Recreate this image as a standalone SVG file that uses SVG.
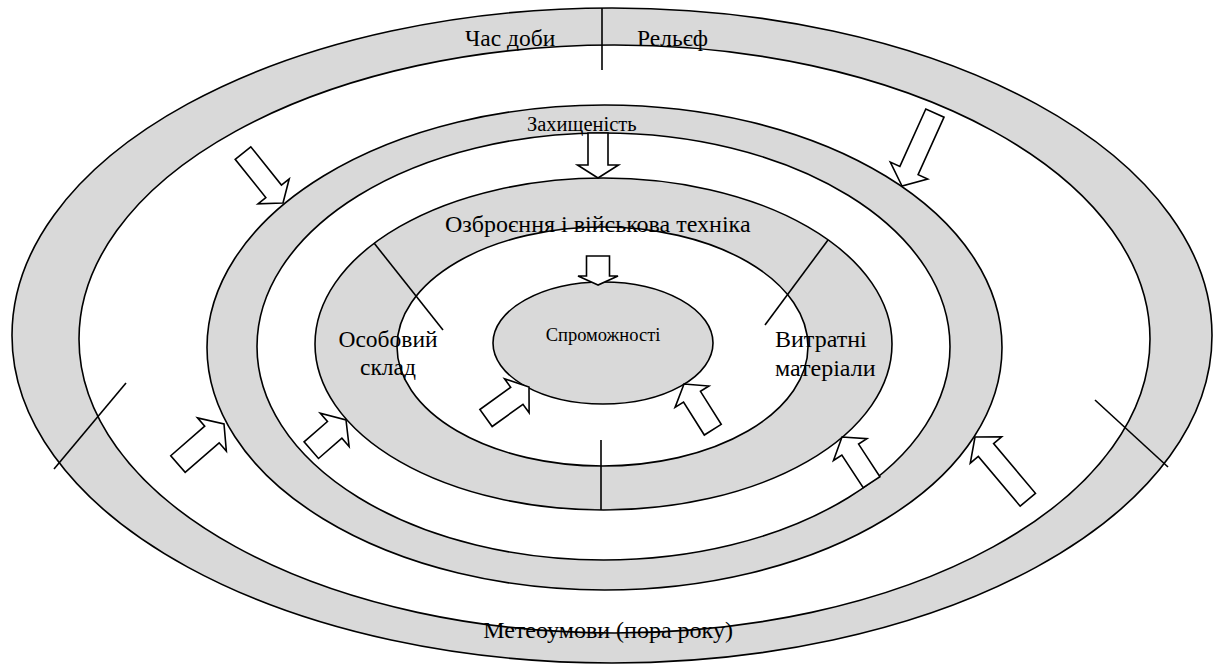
<svg xmlns="http://www.w3.org/2000/svg" width="1215" height="666" viewBox="0 0 1215 666">
<style>
.g{fill:#d9d9d9;stroke:#000;stroke-width:1.6}
.w{fill:#fff;stroke:#000;stroke-width:1.6}
.ln{stroke:#000;stroke-width:1.6;fill:none}
.arr{fill:#fff;stroke:#000;stroke-width:1.6;stroke-linejoin:miter}
.t{font-family:"Liberation Serif","Times New Roman",serif;fill:#000}
</style>
<rect width="1215" height="666" fill="#fff"/>
<g id="ring-outer">
<ellipse class="g" cx="612" cy="335.5" rx="600" ry="327.5"/>
<ellipse class="w" cx="614.5" cy="339" rx="535.5" ry="294"/>
</g>
<g id="ring-protection">
<ellipse class="g" cx="604.5" cy="347.5" rx="397.5" ry="242.5"/>
<ellipse class="w" cx="603.5" cy="346.5" rx="346.5" ry="213.5"/>
</g>
<g id="ring-resources">
<ellipse class="g" cx="603.5" cy="344" rx="288.5" ry="166"/>
<ellipse class="w" cx="602.5" cy="346.5" rx="205.5" ry="119.5"/>
</g>
<g id="core">
<ellipse class="g" cx="603" cy="343" rx="110" ry="61"/>
</g>
<g id="dividers">
<line class="ln" x1="602" y1="8" x2="602" y2="70"/>
<line class="ln" x1="601" y1="440" x2="601" y2="510"/>
<line class="ln" x1="374" y1="243" x2="443" y2="330"/>
<line class="ln" x1="828" y1="240" x2="765" y2="325"/>
<line class="ln" x1="126" y1="383" x2="54" y2="469"/>
<line class="ln" x1="1095" y1="400" x2="1168" y2="467"/>
</g>
<g id="connectors">
<path class="arr" transform="translate(598,178) rotate(180)" d="M0,0 L20.5,13 L10,13 L10,45 L-10,45 L-10,13 L-20.5,13 Z"/>
<path class="arr" transform="translate(598,285) rotate(180)" d="M0,0 L20,9 L11.5,9 L11.5,29 L-11.5,29 L-11.5,9 L-20,9 Z"/>
<path class="arr" transform="translate(283,203) rotate(141.3)" d="M0,0 L20,15 L10,15 L10,64 L-10,64 L-10,15 L-20,15 Z"/>
<path class="arr" transform="translate(902,186) rotate(-155.7)" d="M0,0 L20.5,17 L10,17 L10,80 L-10,80 L-10,17 L-20.5,17 Z"/>
<path class="arr" transform="translate(224,424) rotate(49)" d="M0,0 L22,16 L11,16 L11,61 L-11,61 L-11,16 L-22,16 Z"/>
<path class="arr" transform="translate(346,420) rotate(49)" d="M0,0 L22,15 L11,15 L11,46 L-11,46 L-11,15 L-22,15 Z"/>
<path class="arr" transform="translate(529,387) rotate(54.2)" d="M0,0 L21,15 L10.5,15 L10.5,53 L-10.5,53 L-10.5,15 L-21,15 Z"/>
<path class="arr" transform="translate(684,384) rotate(-32.2)" d="M0,0 L20,15 L10,15 L10,54 L-10,54 L-10,15 L-20,15 Z"/>
<path class="arr" transform="translate(842,437) rotate(-33.2)" d="M0,0 L20,15 L10,15 L10,54 L-10,54 L-10,15 L-20,15 Z"/>
<path class="arr" transform="translate(975,437) rotate(-40.1)" d="M0,0 L20.5,17 L10,17 L10,82 L-10,82 L-10,17 L-20.5,17 Z"/>
</g>
<g id="labels" class="t">
<text class="t" x="465" y="46" font-size="23.5">Час доби</text>
<text class="t" x="637" y="46" font-size="23.5">Рельєф</text>
<text class="t" x="527" y="131" font-size="20.5">Захищеність</text>
<text class="t" x="445" y="232" font-size="24">Озброєння і військова техніка</text>
<text class="t" x="388" y="347" font-size="23.5" text-anchor="middle">Особовий</text>
<text class="t" x="388" y="375" font-size="23.5" text-anchor="middle">склад</text>
<text class="t" x="775" y="347" font-size="24">Витратні</text>
<text class="t" x="775" y="376" font-size="24">матеріали</text>
<text class="t" x="603" y="341" font-size="18.5" text-anchor="middle">Спроможності</text>
<text class="t" x="608" y="638" font-size="24" text-anchor="middle">Метеоумови (пора року)</text>
</g>
</svg>
